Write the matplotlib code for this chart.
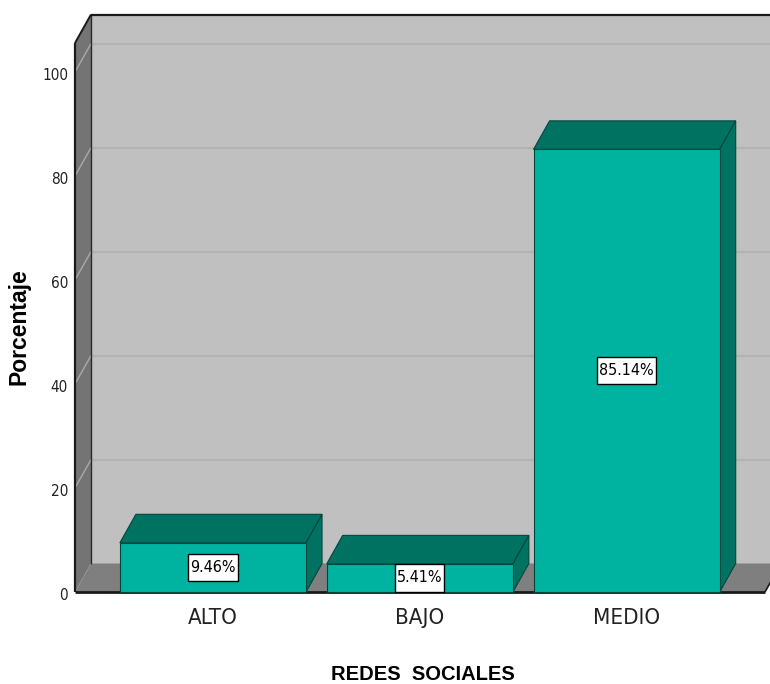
import matplotlib
matplotlib.use("Agg")
import matplotlib.pyplot as plt
from matplotlib.patches import Polygon, Rectangle
from matplotlib.transforms import offset_copy
from matplotlib import font_manager
from matplotlib.font_manager import FontProperties

# Data
categories = ["ALTO", "BAJO", "MEDIO"]
percentages = [9.46, 5.41, 85.14]
y_ticks = [0, 20, 40, 60, 80, 100]

# Fonts: a condensed sans for the tick/value labels if one is installed
narrow_file = None
for key in ("LiberationSansNarrow-Regular", "DejaVuSansCondensed.ttf"):
    for f in font_manager.fontManager.ttflist:
        if key in f.fname:
            narrow_file = f.fname
            break
    if narrow_file:
        break


def label_font(size_narrow, size_regular):
    if narrow_file:
        return FontProperties(fname=narrow_file, size=size_narrow)
    return FontProperties(family=["Liberation Sans", "DejaVu Sans"],
                          size=size_regular)


FP_TICK = label_font(11, 10)
FP_CAT = label_font(16, 14)
FP_VAL = label_font(11.5, 10.5)
FP_TITLE = FontProperties(family=["Liberation Sans", "DejaVu Sans"],
                          weight="bold", size=14.5)
FP_YTITLE = FontProperties(family=["Liberation Sans", "DejaVu Sans"],
                           weight="bold", size=16.5)

# Colours
FACE = "#00b3a0"
SHADE = "#007262"
EDGE = "#00463d"
BACK = "#c0c0c0"
SIDE = "#747474"
FLOOR = "#7f7f7f"

W, H = 770, 684
fig = plt.figure(figsize=(W / 100, H / 100), dpi=100)
fig.patch.set_facecolor("white")

# Front plane of the 3D box
left_px, right_px, base_px, top_px = 75, 765, 592, 43
ax = fig.add_axes([left_px / W, (H - base_px) / H,
                   (right_px - left_px) / W, (base_px - top_px) / H])
ax.set_axis_off()

xmin, xmax = -0.667, 2.669
ymax = 105.6
ax.set_xlim(xmin, xmax)
ax.set_ylim(0, ymax)

# depth offset of the box (data units)
dx = 16 / ((right_px - left_px) / (xmax - xmin))
dy = 28.5 / ((base_px - top_px) / ymax)


def poly(pts, fc, ec="none", lw=0.0, z=1):
    p = Polygon(pts, closed=True, facecolor=fc, edgecolor=ec, linewidth=lw,
                zorder=z, clip_on=False, joinstyle="miter")
    ax.add_patch(p)
    return p


def line(xs, ys, c, lw, z=2):
    ax.plot(xs, ys, color=c, lw=lw, zorder=z, clip_on=False,
            solid_capstyle="butt")


# back wall
poly([(xmin + dx, dy), (xmax + dx, dy), (xmax + dx, ymax + dy),
      (xmin + dx, ymax + dy)], BACK, z=1)
# left wall
poly([(xmin, 0), (xmin + dx, dy), (xmin + dx, ymax + dy), (xmin, ymax)],
     SIDE, z=1)
# floor
poly([(xmin, 0), (xmax, 0), (xmax + dx, dy), (xmin + dx, dy)], FLOOR, z=1)

# gridlines on back and left walls
for t in y_ticks[1:]:
    line([xmin + dx, xmax + dx], [t + dy, t + dy], "#b2b2b2", 1.6, z=1.5)
    line([xmin, xmin + dx], [t, t + dy], "#a9a9a9", 1.0, z=1.5)

# box outlines
line([xmin, xmin], [0, ymax], "#1a1a1a", 1.6, z=3)
line([xmin, xmin + dx], [ymax, ymax + dy], "#1a1a1a", 1.4, z=3)
line([xmin + dx, xmax + dx], [ymax + dy, ymax + dy], "#1a1a1a", 1.6, z=3)
line([xmin + dx, xmin + dx], [dy, ymax + dy], "#2a2a2a", 1.0, z=1.6)
line([xmin, xmax], [0, 0], "#1a1a1a", 2.0, z=3)
line([xmax, xmax + dx], [0, dy], "#1a1a1a", 1.2, z=3)

# 3D bars
bar_w = 0.9
for i, (cat, v) in enumerate(zip(categories, percentages)):
    x0, x1 = i - bar_w / 2, i + bar_w / 2
    # top face
    poly([(x0, v), (x1, v), (x1 + dx, v + dy), (x0 + dx, v + dy)],
         SHADE, EDGE, 0.8, z=4)
    # right side face
    poly([(x1, 0), (x1 + dx, dy), (x1 + dx, v + dy), (x1, v)],
         SHADE, EDGE, 0.8, z=4)
    # front face
    ax.add_patch(Rectangle((x0, 0), bar_w, v, facecolor=FACE, edgecolor=EDGE,
                           linewidth=0.8, zorder=5, clip_on=False))
    # value label
    ax.text(i, v / 2, f"{v:.2f}%", ha="center", va="center",
            fontproperties=FP_VAL, color="black", zorder=7,
            bbox=dict(boxstyle="square,pad=0.12", mutation_aspect=3.2,
                      facecolor="white", edgecolor="black", linewidth=1.0))
    # category label
    ax.text(i, 0, cat, ha="center", va="center", fontproperties=FP_CAT,
            color="#222222", zorder=7,
            transform=offset_copy(ax.transData, fig=fig, x=0, y=-26,
                                  units="dots"))

# y tick labels
for t in y_ticks:
    ax.text(xmin, t, str(t), ha="right", va="center", fontproperties=FP_TICK,
            color="#222222",
            transform=offset_copy(ax.transData, fig=fig, x=-7, y=-3,
                                  units="dots"))

# axis titles
fig.text(19 / W, 1 - 327 / H, "Porcentaje", rotation=90, ha="center",
         va="center", fontproperties=FP_YTITLE)
fig.text(423 / W, 1 - 674 / H, "REDES  SOCIALES", ha="center", va="center",
         fontproperties=FP_TITLE)

fig.savefig("out.png", dpi=100, facecolor="white")
